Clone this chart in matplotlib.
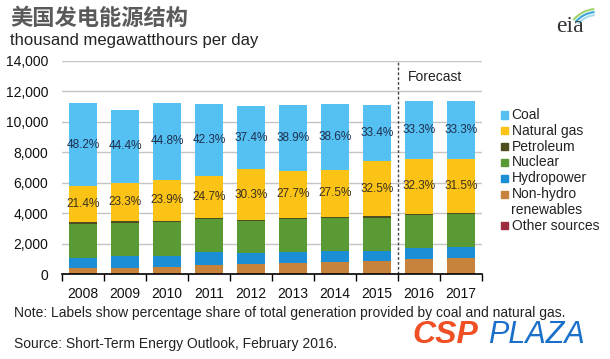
import numpy as np
import matplotlib
matplotlib.use('Agg')
import matplotlib.pyplot as plt
from matplotlib.patches import Rectangle, Arc

plt.rcParams['font.family'] = ['Liberation Sans', 'DejaVu Sans']

years = ['2008', '2009', '2010', '2011', '2012', '2013', '2014', '2015', '2016', '2017']

# thousand megawatthours per day, bottom of stack first
other = [30, 30, 30, 30, 30, 30, 30, 30, 30, 30]
nonhydro = [340, 390, 460, 530, 600, 690, 770, 810, 930, 1020]
hydro = [690, 750, 710, 870, 750, 740, 710, 680, 720, 730]
nuclear = [2200, 2190, 2210, 2160, 2100, 2160, 2180, 2180, 2190, 2140]
petroleum = [130, 110, 100, 80, 60, 70, 80, 80, 70, 70]
gas = [2410, 2520, 2700, 2770, 3350, 3090, 3090, 3630, 3640, 3600]
coal = [5420, 4800, 5060, 4750, 4140, 4330, 4330, 3730, 3760, 3810]

coal_share = ['48.2%', '44.4%', '44.8%', '42.3%', '37.4%', '38.9%', '38.6%', '33.4%', '33.3%', '33.3%']
gas_share = ['21.4%', '23.3%', '23.9%', '24.7%', '30.3%', '27.7%', '27.5%', '32.5%', '32.3%', '31.5%']

names = ['Other sources', 'Non-hydro\nrenewables', 'Hydropower', 'Nuclear', 'Petroleum', 'Natural gas', 'Coal']
series = [other, nonhydro, hydro, nuclear, petroleum, gas, coal]
colors = ['#9e2a3f', '#c7823c', '#1b8ed6', '#5a9a34', '#4d4d1f', '#fac315', '#55c1f2']

fig = plt.figure(figsize=(6.1, 3.59), dpi=100)
ax = fig.add_axes([62/610, 1-274/359, 420/610, 213/359])

x = np.arange(len(years))
bottom = np.zeros(len(years))
bots = {}
for name, vals, c in zip(names, series, colors):
    ax.bar(x, vals, 0.67, bottom=bottom, color=c, zorder=3, linewidth=0)
    bots[name] = bottom.copy()
    bottom = bottom + np.array(vals)

# percentage labels
for i in range(len(years)):
    ax.text(x[i], bots['Coal'][i] + coal[i]/2, coal_share[i], ha='center', va='center',
            fontsize=8.5, color='#1f2f4f', zorder=5)
    ax.text(x[i], bots['Natural gas'][i] + gas[i]/2, gas_share[i], ha='center', va='center',
            fontsize=8.5, color='#3a3020', zorder=5)

ax.set_xlim(-0.5, len(years)-0.5)
ax.set_ylim(0, 14000)
ax.set_yticks(range(0, 14001, 2000))
ax.set_yticklabels(['{:,}'.format(v) for v in range(0, 14001, 2000)])
ax.yaxis.grid(True, color='#c4c4c4', linewidth=1, zorder=0)
ax.set_xticks(x)
ax.set_xticklabels(years)
ax.set_xticks(np.arange(-0.5, len(years)), minor=True)
ax.tick_params(axis='x', which='major', length=0, pad=9, labelsize=10, colors='#111111')
ax.tick_params(axis='x', which='minor', length=5, width=1, color='black', direction='out')
ax.tick_params(axis='y', length=0, pad=10, labelsize=10, colors='#111111')
for s in ['left', 'right', 'top']:
    ax.spines[s].set_visible(False)
ax.spines['bottom'].set_color('black')
ax.spines['bottom'].set_linewidth(1.2)
ax.spines['bottom'].set_zorder(6)

# forecast divider
ax.axvline(7.5, color='#444444', linestyle=(0, (2, 1.5)), linewidth=1, zorder=6)
ax.text(7.74, 12950, 'Forecast', fontsize=10, va='center', ha='left', color='#222222')

# legend drawn by hand
leg_names = ['Coal', 'Natural gas', 'Petroleum', 'Nuclear', 'Hydropower', 'Non-hydro', 'renewables', 'Other sources']
leg_cols = ['#55c1f2', '#fac315', '#4d4d1f', '#5a9a34', '#1b8ed6', '#c7823c', None, '#9e2a3f']
for k, (nm, c) in enumerate(zip(leg_names, leg_cols)):
    yc = 115 + k*15.8
    if c is not None:
        fig.patches.append(Rectangle((501/610, 1-(yc+3.5)/359), 7/610, 7/359,
                                     transform=fig.transFigure, color=c, figure=fig))
    fig.text(511.5/610, 1-yc/359, nm, fontsize=10, va='center', ha='left', color='#222222')

# titles
fig.text(10/610, 1-18/359, '美国发电能源结构', fontsize=16, fontweight='bold', color='#5a5a5a',
         va='center', ha='left', family=['Noto Sans CJK SC', 'DejaVu Sans'])
fig.text(10/610, 1-40/359, 'thousand megawatthours per day', fontsize=12, color='#222222',
         va='center', ha='left')

fig.text(14/610, 1-313/359, 'Note: Labels show percentage share of total generation provided by coal and natural gas.',
         fontsize=10, color='#222222', va='center', ha='left')
fig.text(14/610, 1-344/359, 'Source: Short-Term Energy Outlook, February 2016.',
         fontsize=10, color='#222222', va='center', ha='left')

# watermark
fig.text(412/610, 1-335/359, 'CSP', fontsize=23, fontweight='heavy', style='italic', color='#f04e23',
         va='center', ha='left', zorder=10)
fig.text(488/610, 1-335/359, 'PLAZA', fontsize=22, style='italic', color='#1a6fc9',
         va='center', ha='left', zorder=10)

# eia logo
lg = fig.add_axes([545/610, 1-42/359, 50/610, 40/359])
lg.set_xlim(0, 50)
lg.set_ylim(0, 40)
lg.axis('off')
for r, c in zip([31, 28, 25], ['#9fd36a', '#3aa7d8', '#a8dcf0']):
    lg.add_patch(Arc((52, 2), 2*r, 2*r, theta1=95, theta2=140, color=c, linewidth=1.5))
lg.text(25, 15, 'eia', fontsize=17, family='Liberation Serif', color='#333333', ha='center', va='center')

fig.savefig('out.png', dpi=100)
